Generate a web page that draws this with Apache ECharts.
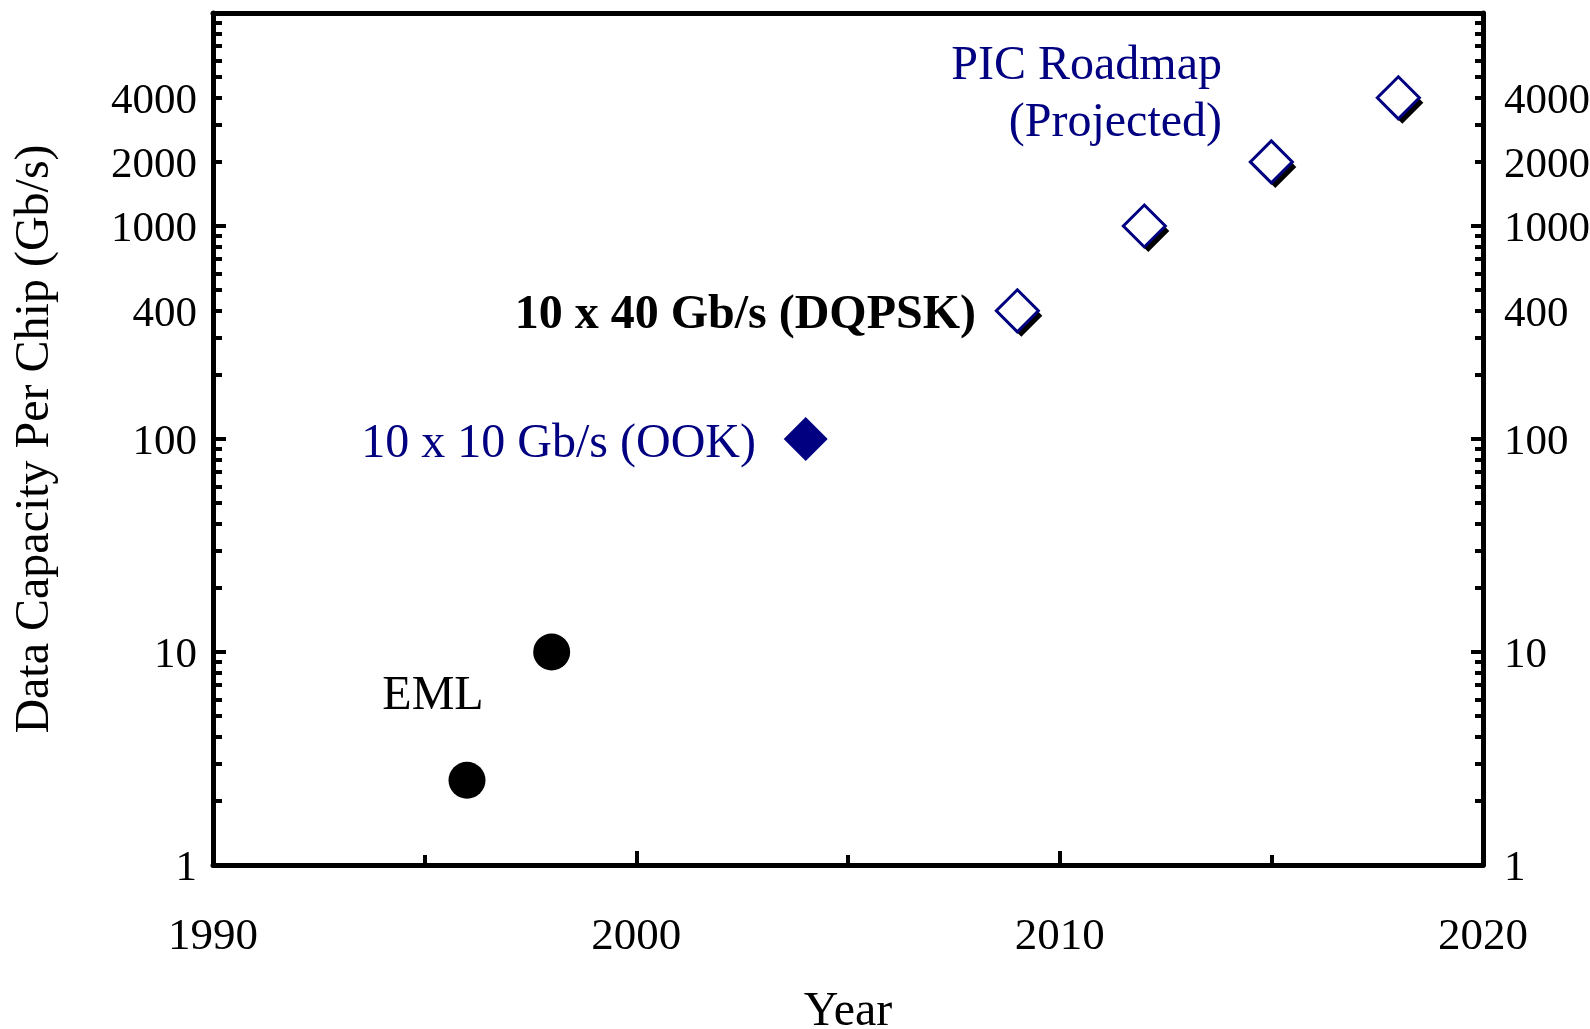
<!DOCTYPE html>
<html>
<head>
<meta charset="utf-8">
<title>Data Capacity Per Chip</title>
<script src="https://cdn.jsdelivr.net/npm/echarts@6/dist/echarts.min.js"></script>
<style>
  html, body { margin: 0; padding: 0; background: #fff; }
  #chart { width: 1590px; height: 1029px; }
</style>
</head>
<body>
<div id="chart"></div>
<script>
// data
const emlYears = [1996, 1998]
const emlValues = [2.5, 10]
const ookYears = [2004]
const ookValues = [100]
const picYears = [2009, 2012, 2015, 2018]
const picValues = [400, 1000, 2000, 4000]

// axis ticks / labels
const yLabelValues = [1, 10, 100, 400, 1000, 2000, 4000]
const yMajorTicks = [1, 10, 100, 1000, 10000]
const yMinorTicks = [
  2, 3, 4, 5, 6, 7, 8, 9,
  20, 30, 40, 50, 60, 70, 80, 90,
  200, 300, 400, 500, 600, 700, 800, 900,
  2000, 3000, 4000, 5000, 6000, 7000, 8000, 9000,
]

const NAVY = '#000080'
const FONT = '"Liberation Serif", "Times New Roman", serif'

const pairs = (xs, ys) => xs.map((x, i) => [x, ys[i]])

const chart = echarts.init(document.getElementById('chart'))

// y axis builder, left/right and major/minor share most of it
function yAxisOf(position, ticks, tickLen, withLabels) {
  return {
    type: 'log',
    logBase: 10,
    position,
    min: 1,
    max: 10000,
    splitLine: { show: false },
    axisLine: {
      show: withLabels,
      lineStyle: { color: '#000', width: 5 },
    },
    axisTick: {
      show: true,
      inside: true,
      length: tickLen,
      customValues: ticks,
      lineStyle: { color: '#000', width: 4 },
    },
    axisLabel: {
      show: withLabels,
      customValues: yLabelValues,
      formatter: v => String(Math.round(v)),
      margin: position === 'left' ? 16 : 21,
      // labels in the original sit a few px below their ticks
      verticalAlign: 'top',
      lineHeight: 8,
      color: '#000',
      fontSize: 43,
      fontFamily: FONT,
    },
    name: position === 'left' && withLabels ? 'Data Capacity Per Chip (Gb/s)' : '',
    nameLocation: 'middle',
    nameGap: 154,
    nameTextStyle: { color: '#000', fontSize: 48, fontFamily: FONT },
  }
}

const option = {
  animation: false,
  backgroundColor: '#fff',
  grid: {
    left: 213,
    right: 107,
    top: 13,
    bottom: 164,
    containLabel: false,
    outerBoundsMode: 'none',
  },
  xAxis: [
    {
      type: 'value',
      position: 'bottom',
      min: 1990,
      max: 2020,
      interval: 10,
      splitLine: { show: false },
      axisLine: { lineStyle: { color: '#000', width: 5 } },
      axisTick: {
        inside: true,
        length: 14,
        lineStyle: { color: '#000', width: 4 },
      },
      minorTick: {
        show: true,
        splitNumber: 2,
        length: 10,
        lineStyle: { color: '#000', width: 4 },
      },
      axisLabel: {
        formatter: v => String(v),
        margin: 50,
        color: '#000',
        fontSize: 45,
        fontFamily: FONT,
      },
      name: 'Year',
      nameLocation: 'middle',
      nameGap: 123,
      nameTextStyle: { color: '#000', fontSize: 48, fontFamily: FONT },
    },
    {
      type: 'value',
      position: 'top',
      min: 1990,
      max: 2020,
      splitLine: { show: false },
      axisLine: { show: true, lineStyle: { color: '#000', width: 5 } },
      axisTick: { show: false },
      axisLabel: { show: false },
    },
  ],
  yAxis: [
    yAxisOf('left', yMajorTicks, 13, true),
    yAxisOf('left', yMinorTicks, 9, false),
    yAxisOf('right', yMajorTicks, 12, true),
    yAxisOf('right', yMinorTicks, 8, false),
  ],
  series: [
    {
      type: 'scatter',
      symbol: 'circle',
      symbolSize: 37,
      itemStyle: { color: '#000', opacity: 1 },
      emphasis: { disabled: true },
      data: pairs(emlYears, emlValues),
    },
    {
      type: 'scatter',
      symbol: 'diamond',
      symbolSize: 44,
      itemStyle: { color: NAVY, opacity: 1 },
      emphasis: { disabled: true },
      data: pairs(ookYears, ookValues),
    },
    {
      // drop shadow under the open diamonds
      type: 'scatter',
      symbol: 'diamond',
      symbolSize: 42,
      symbolOffset: [4, 5],
      itemStyle: { color: '#000', opacity: 1 },
      emphasis: { disabled: true },
      data: pairs(picYears, picValues),
    },
    {
      type: 'scatter',
      symbol: 'diamond',
      symbolSize: 42,
      itemStyle: { color: '#fff', borderColor: NAVY, borderWidth: 3, opacity: 1 },
      emphasis: { disabled: true },
      data: pairs(picYears, picValues),
    },
  ],
  graphic: [
    {
      type: 'text',
      style: { text: 'PIC Roadmap', x: 1222, y: 66, align: 'right', verticalAlign: 'middle', fill: NAVY, font: `48px ${FONT}` },
    },
    {
      type: 'text',
      style: { text: '(Projected)', x: 1222, y: 123, align: 'right', verticalAlign: 'middle', fill: NAVY, font: `48px ${FONT}` },
    },
    {
      type: 'text',
      style: { text: '10 x 40 Gb/s (DQPSK)', x: 976, y: 316, align: 'right', verticalAlign: 'middle', fill: '#000', font: `bold 48px ${FONT}` },
    },
    {
      type: 'text',
      style: { text: '10 x 10 Gb/s (OOK)', x: 756, y: 444, align: 'right', verticalAlign: 'middle', fill: NAVY, font: `48px ${FONT}` },
    },
    {
      type: 'text',
      style: { text: 'EML', x: 433, y: 696, align: 'center', verticalAlign: 'middle', fill: '#000', font: `48px ${FONT}` },
    },
  ],
}

chart.setOption(option)
</script>
</body>
</html>
